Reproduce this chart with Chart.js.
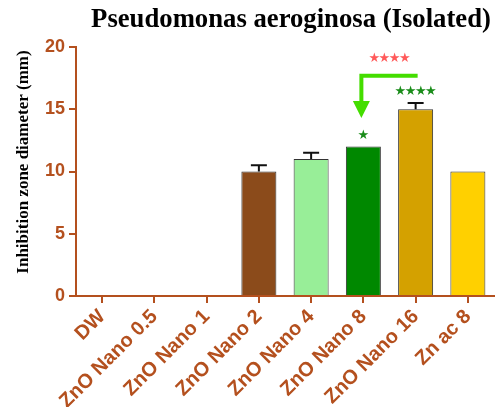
<!DOCTYPE html>
<html>
<head>
<meta charset="utf-8">
<script src="https://cdn.jsdelivr.net/npm/chart.js@4.4.1/dist/chart.umd.min.js"></script>
<style>
  html, body { margin: 0; padding: 0; background: #fff; }
  canvas { display: block; }
</style>
</head>
<body>
<canvas id="chart" width="496" height="407"></canvas>
<script>
// Inhibition zone diameters (mm) for each treatment
const categories = ['DW', 'ZnO Nano 0.5', 'ZnO Nano 1', 'ZnO Nano 2', 'ZnO Nano 4', 'ZnO Nano 8', 'ZnO Nano 16', 'Zn ac 8'];
const zoneMeans  = [0, 0, 0, 10, 11, 12, 15, 10];
const zoneErrors = [0, 0, 0, 0.5, 0.5, 0, 0.5, 0];
const significance = ['', '', '', '', '', '★', '★★★★', ''];
const yTicks = [0, 5, 10, 15, 20];

// Pairwise comparison: ZnO Nano 16 vs ZnO Nano 8
const comparisonFrom = 6;
const comparisonTo = 5;
const comparisonLabel = '★★★★';

const barColors = ['#8B4B1B', '#8B4B1B', '#8B4B1B', '#8B4B1B', '#98EE98', '#008800', '#D4A100', '#FFD000'];
const AXIS = '#B4501E';
const STAR_FONT = '13px "DejaVu Sans", sans-serif';

function drawStars(ctx, text, x, y) {
  ctx.font = STAR_FONT;
  ctx.letterSpacing = '-1.5px';
  // letter spacing is added after every glyph, so shift to keep the run centred
  ctx.fillText(text, x - 0.75, y);
  ctx.letterSpacing = '0px';
}

const overlay = {
  id: 'overlay',
  afterDatasetsDraw(chart) {
    const { ctx } = chart;
    const xs = chart.scales.x, ys = chart.scales.y;
    ctx.save();

    // error bars (upper half)
    ctx.strokeStyle = '#111';
    ctx.lineWidth = 2;
    zoneMeans.forEach((v, i) => {
      const e = zoneErrors[i];
      if (!e) return;
      const x = xs.getPixelForValue(i);
      const y0 = ys.getPixelForValue(v);
      const y1 = ys.getPixelForValue(v + e);
      ctx.beginPath();
      ctx.moveTo(x, y0); ctx.lineTo(x, y1);
      ctx.moveTo(x - 8, y1); ctx.lineTo(x + 8, y1);
      ctx.stroke();
    });

    // significance marks over bars
    ctx.fillStyle = '#1A8C1A';
    ctx.textAlign = 'center';
    ctx.textBaseline = 'middle';
    significance.forEach((s, i) => {
      if (!s) return;
      const x = xs.getPixelForValue(i);
      const top = ys.getPixelForValue(zoneMeans[i] + zoneErrors[i]);
      drawStars(ctx, s, x, top - 11);
    });

    // comparison arrow from ZnO Nano 16 down to ZnO Nano 8
    const xFrom = xs.getPixelForValue(comparisonFrom) + 2;
    const xTo = xs.getPixelForValue(comparisonTo) - 2;
    const yLine = ys.getPixelForValue(17.7);
    const yTip = ys.getPixelForValue(14.3);
    const head = 17;
    ctx.strokeStyle = '#44DD00';
    ctx.fillStyle = '#44DD00';
    ctx.lineWidth = 4;
    ctx.lineJoin = 'miter';
    ctx.beginPath();
    ctx.moveTo(xFrom, yLine);
    ctx.lineTo(xTo, yLine);
    ctx.lineTo(xTo, yTip - head + 1);
    ctx.stroke();
    ctx.beginPath();
    ctx.moveTo(xTo - 8.5, yTip - head);
    ctx.lineTo(xTo + 8.5, yTip - head);
    ctx.lineTo(xTo, yTip);
    ctx.closePath();
    ctx.fill();

    ctx.fillStyle = '#FF5A5A';
    drawStars(ctx, comparisonLabel, (xs.getPixelForValue(comparisonFrom) + xs.getPixelForValue(comparisonTo)) / 2, ys.getPixelForValue(19.1));

    // chart title
    ctx.fillStyle = '#000';
    ctx.font = 'bold 26.7px "Liberation Serif", "Times New Roman", serif';
    ctx.textAlign = 'center';
    ctx.textBaseline = 'alphabetic';
    ctx.fillText('Pseudomonas aeroginosa (Isolated)', 291, 27);

    // y axis title
    ctx.translate(24, 162);
    ctx.rotate(-Math.PI / 2);
    ctx.font = 'bold 17px "Liberation Serif", "Times New Roman", serif';
    ctx.textBaseline = 'middle';
    ctx.fillText('Inhibition zone diameter (mm)', 0, 0);
    ctx.restore();
  }
};

new Chart(document.getElementById('chart'), {
  type: 'bar',
  data: {
    labels: categories,
    datasets: [{
      data: zoneMeans,
      backgroundColor: barColors,
      borderColor: '#333',
      borderWidth: 1,
      barPercentage: 0.67,
      categoryPercentage: 1
    }]
  },
  options: {
    responsive: false,
    animation: false,
    devicePixelRatio: 1,
    layout: { padding: { top: 47, right: 2, left: 0, bottom: 0 } },
    plugins: { legend: { display: false }, tooltip: { enabled: false }, title: { display: false } },
    scales: {
      x: {
        afterFit(s) { s.height = 111; },
        grid: { offset: false, drawOnChartArea: false, drawTicks: true, tickLength: 7, tickWidth: 2, tickColor: AXIS, color: AXIS, lineWidth: 2 },
        border: { color: AXIS, width: 2 },
        ticks: {
          color: AXIS, maxRotation: 45, minRotation: 45, padding: 2,
          font: { family: '"Liberation Sans", Arial, sans-serif', size: 20, weight: 'bold' }
        }
      },
      y: {
        min: 0, max: 20,
        afterFit(s) { s.width = 76; },
        afterBuildTicks(s) { s.ticks = yTicks.map(v => ({ value: v })); },
        grid: { drawOnChartArea: false, drawTicks: true, tickLength: 7, tickWidth: 2, tickColor: AXIS, color: AXIS, lineWidth: 2 },
        border: { color: AXIS, width: 2 },
        ticks: {
          color: AXIS, padding: 4,
          font: { family: '"Liberation Sans", Arial, sans-serif', size: 18, weight: 'bold' }
        }
      }
    }
  },
  plugins: [overlay]
});
</script>
</body>
</html>
